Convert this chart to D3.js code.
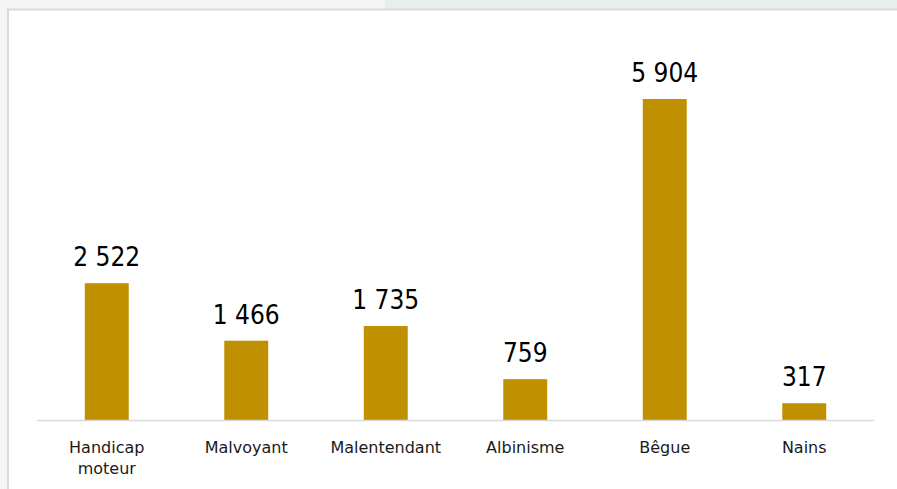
<!DOCTYPE html>
<html lang="fr">
<head>
    <meta charset="UTF-8">
    <title>Handicaps</title>
    <script src="https://d3js.org/d3.v7.min.js"></script>
    <style>
        body {
            margin: 0;
            padding: 0;
            background: #f5f5f5;
        }
        svg {
            display: block;
        }
        .value-label {
            font-family: "DejaVu Sans Condensed", "DejaVu Sans", sans-serif;
            font-stretch: condensed;
            font-size: 26px;
            fill: #000;
        }
        .cat-label {
            font-family: "DejaVu Sans", sans-serif;
            font-size: 16px;
            fill: #1a1a1a;
        }
    </style>
</head>
<body>
    <svg width="897" height="489"></svg>

    <script>
        // chart data
        const categories = ["Handicap moteur", "Malvoyant", "Malentendant", "Albinisme", "Bêgue", "Nains"];
        const values = [2522, 1466, 1735, 759, 5904, 317];

        const svg = d3.select("svg");
        const width = +svg.attr("width");
        const height = +svg.attr("height");

        // page background bits
        svg.append("rect")
            .attr("width", width).attr("height", height)
            .attr("fill", "#f5f5f5");
        svg.append("rect")
            .attr("x", 385).attr("y", 0)
            .attr("width", width - 385).attr("height", 9)
            .attr("fill", "#e6efe9");
        // white card
        svg.append("rect")
            .attr("x", 8).attr("y", 9.5)
            .attr("width", width + 10).attr("height", height + 10)
            .attr("fill", "#fff")
            .attr("stroke", "#dadada")
            .attr("stroke-width", 2);

        const baseY = 420.5;

        const x = d3.scaleBand()
            .domain(categories)
            .range([37, 874])
            .paddingInner(0.685)
            .paddingOuter(0.3425);

        const y = d3.scaleLinear()
            .domain([0, 6000])
            .range([baseY, baseY - 326.7]);

        const fmt = d3.formatLocale({ decimal: ",", thousands: " ", grouping: [3], currency: ["", ""] }).format(",d");

        const g = svg.append("g");

        g.selectAll("rect.bar")
            .data(values)
            .enter().append("rect")
            .attr("class", "bar")
            .attr("x", (d, i) => x(categories[i]))
            .attr("y", d => y(d))
            .attr("width", x.bandwidth())
            .attr("height", d => baseY - y(d))
            .attr("fill", "#bf9000");

        // axis line
        g.append("line")
            .attr("x1", 37).attr("x2", 874)
            .attr("y1", baseY).attr("y2", baseY)
            .attr("stroke", "#d9d9d9")
            .attr("stroke-width", 1.5);

        // value labels
        g.selectAll("text.value-label")
            .data(values)
            .enter().append("text")
            .attr("class", "value-label")
            .attr("x", (d, i) => x(categories[i]) + x.bandwidth() / 2)
            .attr("y", d => y(d) - 17)
            .attr("text-anchor", "middle")
            .text(d => fmt(d));

        // category labels, wrapped on spaces
        const cats = g.selectAll("text.cat-label")
            .data(categories)
            .enter().append("text")
            .attr("class", "cat-label")
            .attr("x", d => x(d) + x.bandwidth() / 2)
            .attr("y", 452.5)
            .attr("text-anchor", "middle");

        cats.each(function(d) {
            const t = d3.select(this);
            d.split(" ").forEach((w, i) => {
                t.append("tspan")
                    .attr("x", x(d) + x.bandwidth() / 2)
                    .attr("dy", i === 0 ? 0 : 21.5)
                    .text(w);
            });
        });
    </script>
</body>
</html>
